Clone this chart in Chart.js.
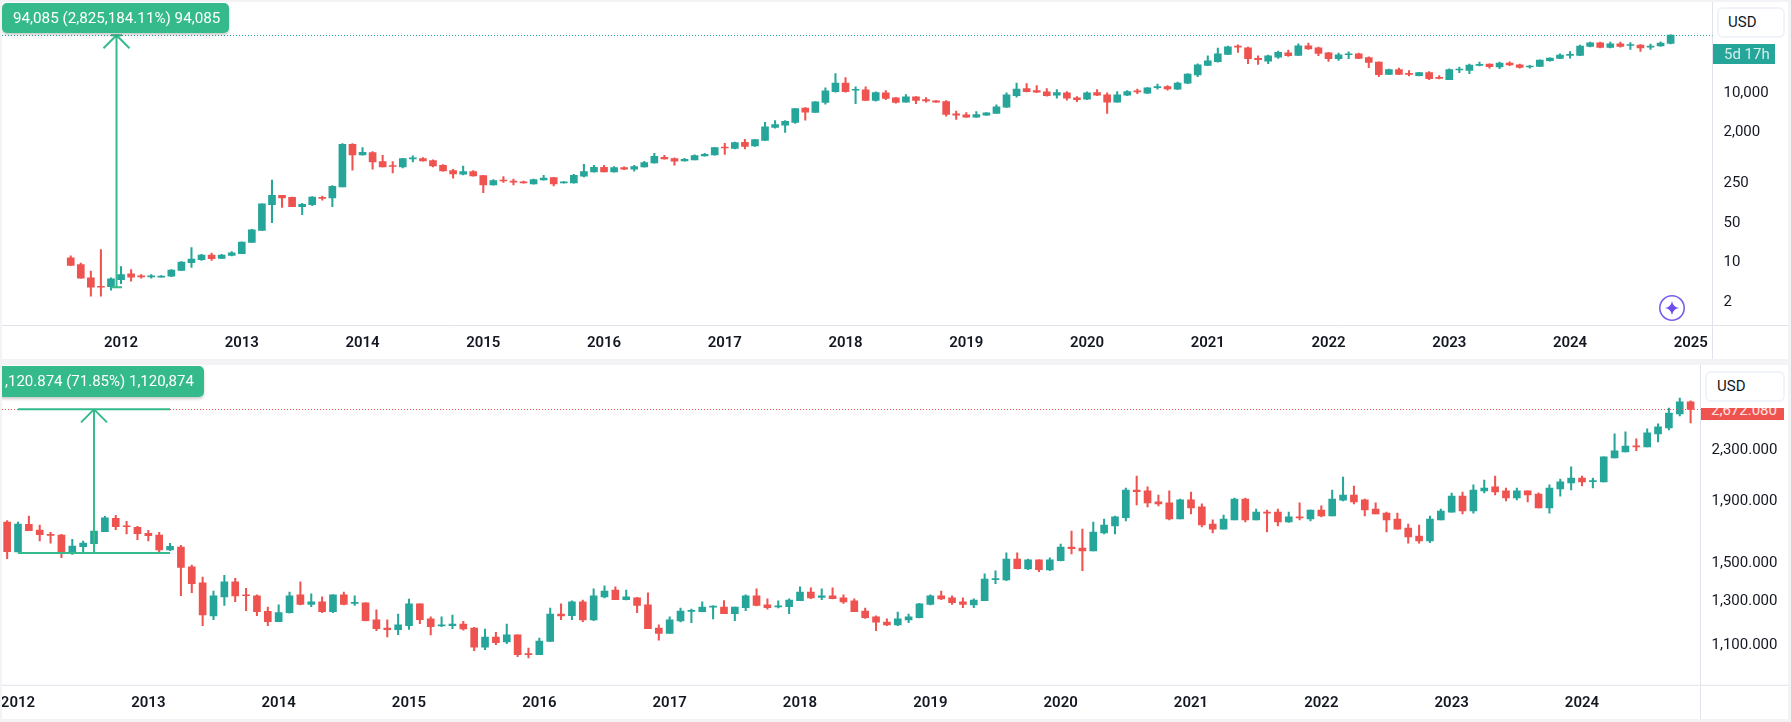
<!DOCTYPE html>
<html>
<head>
<meta charset="utf-8">
<title>Monthly candles</title>
<script src="https://cdn.jsdelivr.net/npm/chart.js@4/dist/chart.umd.min.js"></script>
<style>
    html, body { margin: 0; padding: 0; background: #f3f3f5; font-family: Roboto, sans-serif; }
    body { position: relative; width: 1791px; height: 722px; overflow: hidden; }
    .panel { position: absolute; left: 2px; width: 1786px; background: #fff; overflow: hidden; }
    #upperPanel { top: 2px; height: 357px; }
    #lowerPanel { top: 365px; height: 354px; }
    canvas { position: absolute; left: 0; top: 0; }
    .pill { position: absolute; background: #35ba8b; color: #fff; font-size: 15px; line-height: 30px; white-space: nowrap; box-shadow: 0 2px 3px rgba(0, 0, 0, 0.2); box-sizing: border-box; }
    #upperPill { left: 0; top: 1px; width: 227px; height: 30px; border-radius: 5px; padding-left: 11px; font-size: 15.2px; }
    #lowerPill { left: -2px; top: 1px; width: 204px; height: 31px; border-radius: 0 5px 5px 0; padding-left: 5px; }
    .usd { position: absolute; background: #fff; border: 2px solid #f0f3fa; border-radius: 6px; box-sizing: border-box; color: #131722; font-size: 15px; }
    #upperUsd { left: 1715px; top: 5px; width: 68px; height: 31px; line-height: 27px; padding-left: 9px; }
    #lowerUsd { left: 1703px; top: 6px; width: 80px; height: 31px; line-height: 27px; padding-left: 10px; }
    .tag { position: absolute; color: #fff; font-size: 15px; overflow: hidden; white-space: nowrap; }
    #upperTag { left: 1711px; top: 42px; width: 62px; height: 20px; line-height: 20px; background: #26a69a; padding-left: 11px; box-sizing: border-box; color: #d4efec; }
    #lowerTag { left: 1699px; top: 43px; width: 83px; height: 12px; line-height: 4px; background: #ef5350; padding-left: 10px; box-sizing: border-box; color: #fde3e3; }
    #spark { position: absolute; left: 1655px; top: 291px; }
</style>
</head>
<body>
<div class="panel" id="upperPanel">
    <canvas id="upperChart" width="1786" height="357"></canvas>
    <div class="pill" id="upperPill">94,085 (2,825,184.11%) 94,085</div>
    <div class="usd" id="upperUsd">USD</div>
    <div class="tag" id="upperTag">5d 17h</div>
    <svg id="spark" width="30" height="30" viewBox="0 0 30 30">
        <circle cx="15" cy="15" r="12.2" fill="none" stroke="#7b5fe6" stroke-width="1.6"></circle>
        <path d="M15 8 Q16 14 22 15 Q16 16 15 22 Q14 16 8 15 Q14 14 15 8 Z" fill="#6d4df0"></path>
    </svg>
</div>
<div class="panel" id="lowerPanel">
    <canvas id="lowerChart" width="1786" height="354"></canvas>
    <div class="pill" id="lowerPill">,120.874 (71.85%) 1,120,874</div>
    <div class="tag" id="lowerTag">2,672.080</div>
    <div class="usd" id="lowerUsd">USD</div>
</div>
<script>
var upperOpen = [
    11.0,8.32,4.85,3.41,3.41,4.53,5.70,5.25,5.05,4.98,
    5.18,6.61,9.01,10.2,12.3,10.7,12.1,13.0,20.5,33.3,
    95.3,139,128,88.0,95.3,128,125,197,1110,721,
    792,551,462,443,614,622,573,474,382,329,
    366,312,214,258,245,242,222,262,287,232,
    232,304,362,437,362,431,403,443,521,655,
    622,566,589,692,721,983,943,1203,1037,1305,
    2207,2428,2705,4830,4055,6080,9480,13470,10000,10140,
    6590,8985,7340,6160,7640,6860,6500,6320,3840,3685,
    3350,3640,3890,5030,8070,10700,9870,9360,8180,8985,
    7340,6950,9110,8270,6160,8180,9740,8860,11150,11610,
    10420,13290,18620,27550,31950,42970,59430,56280,36550,32800,
    38580,45990,41240,61000,56280,45990,36080,42400,44150,37650,
    31500,19160,23110,19920,18150,20470,16700,15410,22800,22500,
    27550,29050,25750,30270,28280,25750,26450,33250,36550,41200,
    41200,59430,69000,57050,66300,61800,62650,57800,61000,67100
];
var upperHigh = [
    11.9,8.89,6.43,15.3,4.85,7.66,6.79,5.55,5.55,5.33,
    6.79,9.39,16.6,12.6,13.3,12.6,14.1,21.1,35.1,98.2,
    258,139,130,101,133,135,208,1140,1140,969,
    825,711,551,630,692,647,589,486,403,456,
    382,316,265,300,269,248,269,316,291,245,
    329,494,474,474,450,443,474,558,771,711,
    638,630,721,771,983,1155,1220,1359,1359,2705,
    2930,2930,4765,4960,6320,11000,19650,16690,11450,11450,
    9360,9870,7540,8400,7740,7430,6590,6590,4280,4050,
    4220,4050,5520,8985,13470,13110,12090,10700,10280,9480,
    7740,9360,10280,8985,9480,9870,10550,11150,12860,12090,
    14000,19650,29450,40700,55500,60200,63570,57800,40700,41800,
    49100,51230,66300,68020,57800,46600,45370,47900,45370,39100,
    31950,23740,24700,22200,20750,21300,18150,24050,25730,29050,
    31500,29450,31500,31900,29050,27550,34640,37600,44150,48500,
    62650,70900,70900,70900,70900,69900,64450,65350,71900,95300
];
var upperLow = [
    8.09,4.78,2.30,2.30,2.95,3.85,4.24,4.78,4.78,4.98,
    5.11,6.52,7.46,9.91,9.91,10.6,11.9,13.0,20.5,33.3,
    46.1,85.6,88.0,63.7,91.6,115,88.0,197,387,711,
    403,443,347,425,543,558,443,371,280,320,
    304,155,211,235,214,229,220,258,205,229,
    229,296,357,362,357,398,371,437,514,605,
    474,558,589,683,711,740,918,918,1023,1287,
    2150,1805,2596,2970,4055,5680,9230,9230,5830,6590,
    6410,6860,5910,6160,5830,6160,6080,3494,3053,3310,
    3310,3590,3890,4960,7540,9360,9110,7850,7240,6680,
    6320,6860,8070,3890,6160,8070,8750,8750,10420,10000,
    10280,13110,17400,27180,31500,42420,46600,29450,28650,29450,
    36550,39640,40700,52650,40700,32400,33700,36080,36080,25000,
    17400,18900,18900,17900,17900,15410,15840,15410,20470,19650,
    26800,24700,24050,27150,24700,24700,26100,32800,36080,37050,
    40700,58600,56280,56280,57800,52650,48500,52650,59430,66200
];
var upperClose = [
    8.09,4.78,3.32,3.32,4.66,5.55,4.98,5.05,5.18,5.25,
    6.70,9.26,10.46,12.3,10.6,12.3,13.5,20.8,34.2,98.2,
    139,125,88.0,96.8,130,123,202,1110,721,802,
    543,443,450,622,630,566,462,377,333,366,
    308,214,254,250,238,232,265,280,222,238,
    316,366,437,362,431,403,450,528,683,614,
    558,605,701,740,969,955,1187,1023,1340,2268,
    2470,2815,4765,4110,6240,9740,13470,9480,10280,6590,
    9110,7150,6080,7640,6590,6500,6160,3730,3640,3350,
    3730,3999,5095,8270,10550,9480,9230,8070,9110,7240,
    6860,8985,8180,6160,8270,9480,9360,11000,11450,10550,
    13470,19400,28280,33250,44100,58630,57800,36080,34640,40700,
    46600,40700,61000,54000,44750,36080,42400,43550,36550,31100,
    18900,23110,19160,19160,20470,16070,16270,23110,23420,27950,
    28650,26100,30270,27950,25400,26800,34200,37050,41800,43000,
    60200,69000,57050,66300,59430,63570,56280,60200,68020,94085
];
var upperYears = [2012, 2013, 2014, 2015, 2016, 2017, 2018, 2019, 2020, 2021, 2022, 2023, 2024, 2025];
var upperPriceTicks = [2, 10, 50, 250, 2000, 10000];

var lowerOpen = [
    1744,1557,1729,1692,1663,1660,1555,1588,1606,1681,
    1769,1718,1709,1671,1660,1569,1586,1471,1385,1222,
    1313,1390,1323,1318,1243,1196,1237,1323,1276,1289,
    1242,1323,1281,1284,1204,1167,1160,1178,1279,1208,
    1176,1178,1185,1167,1086,1128,1107,1137,1059,1055,
    1109,1231,1223,1289,1204,1313,1348,1300,1308,1274,
    1167,1143,1199,1243,1242,1263,1264,1232,1261,1318,
    1274,1264,1266,1295,1338,1310,1318,1308,1294,1245,
    1218,1194,1181,1204,1214,1276,1318,1308,1289,1274,
    1294,1402,1400,1516,1460,1511,1455,1507,1586,1580,
    1563,1673,1718,1773,1969,1962,1882,1875,1764,1896,
    1847,1731,1698,1758,1903,1758,1811,1811,1744,1778,
    1764,1825,1784,1894,1932,1896,1832,1804,1764,1704,
    1654,1623,1758,1811,1924,1818,1962,1992,1962,1910,
    1962,1939,1839,1977,2022,2060,2032,2030,2223,2275,
    2326,2318,2435,2490,2626,2749
];
var lowerHigh = [
    1753,1744,1784,1724,1677,1665,1633,1623,1685,1782,
    1789,1749,1716,1690,1677,1608,1596,1481,1416,1343,
    1425,1409,1357,1323,1264,1274,1338,1390,1328,1313,
    1323,1338,1318,1284,1250,1204,1231,1302,1279,1218,
    1218,1226,1197,1170,1163,1148,1185,1137,1082,1123,
    1259,1279,1294,1298,1354,1369,1364,1348,1311,1333,
    1181,1218,1259,1254,1289,1269,1295,1264,1323,1354,
    1303,1294,1303,1364,1359,1354,1359,1323,1303,1259,
    1222,1208,1240,1231,1281,1323,1343,1318,1308,1303,
    1433,1450,1552,1552,1516,1511,1522,1604,1685,1698,
    1744,1764,1784,1984,2076,1992,1932,1962,1903,1954,
    1868,1758,1791,1910,1910,1832,1825,1832,1811,1875,
    1825,1854,1969,2068,1999,1903,1875,1811,1804,1731,
    1724,1784,1832,1945,1954,2007,2045,2076,1984,1984,
    1962,1947,2007,2052,2149,2076,2060,2232,2435,2454,
    2390,2481,2529,2686,2790,2760
];
var lowerLow = [
    1518,1557,1688,1623,1610,1524,1542,1557,1557,1681,
    1694,1667,1631,1623,1557,1565,1319,1335,1178,1205,
    1271,1290,1246,1223,1178,1196,1235,1274,1266,1237,
    1237,1274,1271,1199,1155,1128,1138,1161,1187,1137,
    1173,1164,1158,1071,1075,1096,1100,1047,1042,1055,
    1109,1205,1205,1196,1200,1308,1300,1298,1237,1164,
    1115,1143,1194,1191,1240,1208,1232,1200,1246,1269,
    1254,1259,1232,1294,1305,1300,1303,1281,1242,1210,
    1155,1178,1178,1191,1213,1274,1300,1276,1261,1261,
    1294,1381,1397,1460,1456,1445,1451,1505,1546,1451,
    1563,1667,1667,1751,1861,1847,1854,1758,1764,1798,
    1711,1673,1698,1758,1744,1758,1679,1718,1742,1758,
    1751,1778,1784,1889,1868,1784,1798,1679,1698,1610,
    1610,1612,1758,1811,1798,1804,1947,1932,1889,1896,
    1882,1839,1804,1924,1969,1999,1984,2030,2223,2275,
    2284,2318,2362,2472,2606,2539
];
var lowerClose = [
    1559,1731,1688,1663,1658,1555,1592,1610,1685,1771,
    1713,1713,1669,1656,1569,1590,1468,1381,1226,1318,
    1390,1318,1319,1242,1196,1238,1318,1276,1289,1242,
    1323,1276,1285,1200,1164,1160,1181,1279,1205,1173,
    1181,1185,1163,1086,1128,1104,1137,1055,1055,1111,
    1231,1222,1289,1204,1318,1343,1300,1313,1271,1164,
    1143,1204,1245,1246,1264,1266,1232,1264,1318,1271,
    1261,1269,1298,1338,1308,1318,1305,1289,1242,1214,
    1193,1181,1208,1218,1279,1318,1303,1285,1276,1298,
    1405,1405,1516,1462,1511,1456,1511,1586,1577,1563,
    1679,1724,1778,1969,1957,1875,1868,1764,1896,1839,
    1724,1698,1764,1903,1758,1811,1804,1744,1778,1771,
    1825,1784,1903,1932,1882,1825,1798,1758,1698,1648,
    1623,1764,1818,1924,1818,1969,1984,1954,1910,1962,
    1932,1839,1984,2030,2060,2030,2037,2232,2284,2326,
    2318,2444,2500,2635,2749,2672
];
var lowerYears = [2012, 2013, 2014, 2015, 2016, 2017, 2018, 2019, 2020, 2021, 2022, 2023, 2024];
var lowerPriceTicks = [1100, 1300, 1500, 1900, 2300];

var UP = '#26a69a';
var DOWN = '#ef5350';
var MEASURE = '#35ba8b';
var FRAME = '#e0e3eb';
var FONT = 'Roboto, sans-serif';

function candleSets(open, high, low, close) {
    var colors = open.map(function (value, i) {
        return close[i] >= value ? UP : DOWN;
    });
    var wicks = high.map(function (value, i) {
        return { x: i, y: [low[i], value] };
    });
    var bodies = open.map(function (value, i) {
        return { x: i, y: [value, close[i]] };
    });

    return [
        { data: wicks, backgroundColor: colors, barThickness: 1.4, grouped: false, order: 2 },
        { data: bodies, backgroundColor: colors, barThickness: 7, minBarLength: 1, grouped: false, order: 1 }
    ];
}

// the axes keep half a label of padding unless told otherwise
function clearPadding(scale) {
    scale.paddingTop = 0;
    scale.paddingBottom = 0;
    scale.paddingLeft = 0;
    scale.paddingRight = 0;
}

// price line, measure arrow and the frame lines between pane and axes
function overlayPlugin(cfg) {
    return {
        id: 'overlay',
        afterDraw: function (chart) {
            var ctx = chart.ctx;
            var area = chart.chartArea;
            var xs = chart.scales.x;
            var ys = chart.scales.y;
            var priceY = Math.round(ys.getPixelForValue(cfg.price)) + 0.5;
            var topY = ys.getPixelForValue(cfg.measureTop);
            var baseY = ys.getPixelForValue(cfg.measureBase);
            var fromX = xs.getPixelForValue(cfg.measureFrom);
            var toX = xs.getPixelForValue(cfg.measureTo);
            var midX = (fromX + toX) / 2;

            ctx.save();
            ctx.strokeStyle = FRAME;
            ctx.lineWidth = 1;
            ctx.beginPath();
            ctx.moveTo(area.right, 0);
            ctx.lineTo(area.right, chart.height);
            ctx.moveTo(0, area.bottom);
            ctx.lineTo(chart.width, area.bottom);
            ctx.stroke();

            ctx.strokeStyle = cfg.priceColor;
            ctx.setLineDash([1, 2]);
            ctx.beginPath();
            ctx.moveTo(area.left, priceY);
            ctx.lineTo(area.right, priceY);
            ctx.stroke();
            ctx.setLineDash([]);

            ctx.strokeStyle = MEASURE;
            ctx.lineWidth = 2;
            ctx.beginPath();
            ctx.moveTo(fromX, topY);
            ctx.lineTo(toX, topY);
            ctx.moveTo(fromX, baseY);
            ctx.lineTo(toX, baseY);
            ctx.moveTo(midX, baseY);
            ctx.lineTo(midX, topY);
            ctx.moveTo(midX - 13, topY + 13);
            ctx.lineTo(midX, topY);
            ctx.lineTo(midX + 13, topY + 13);
            ctx.stroke();
            ctx.restore();
        }
    };
}

function drawPanel(canvasId, sets, years, firstYearIndex, priceTicks, priceFormat, axisWidth, axisHeight, ranges, overlay) {
    new Chart(document.getElementById(canvasId), {
        type: 'bar',
        data: { datasets: sets },
        options: {
            responsive: false,
            devicePixelRatio: 1,
            animation: false,
            events: [],
            layout: { padding: 0 },
            plugins: { legend: { display: false }, tooltip: { enabled: false } },
            scales: {
                x: {
                    type: 'linear',
                    offset: false,
                    min: ranges.xMin,
                    max: ranges.xMax,
                    grid: { display: false, drawTicks: false },
                    border: { display: false },
                    afterFit: function (scale) {
                        scale.height = axisHeight;
                        clearPadding(scale);
                    },
                    afterBuildTicks: function (scale) {
                        scale.ticks = years.map(function (year, i) {
                            return { value: firstYearIndex + i * 12 };
                        });
                    },
                    ticks: {
                        autoSkip: false,
                        maxRotation: 0,
                        padding: 9,
                        color: '#131722',
                        font: { family: FONT, size: 15, weight: '600' },
                        callback: function (value) {
                            return years[Math.round((value - firstYearIndex) / 12)];
                        }
                    }
                },
                y: {
                    type: 'logarithmic',
                    position: 'right',
                    min: ranges.yMin,
                    max: ranges.yMax,
                    grid: { display: false, drawTicks: false },
                    border: { display: false },
                    afterFit: function (scale) {
                        scale.width = axisWidth;
                        clearPadding(scale);
                    },
                    afterBuildTicks: function (scale) {
                        scale.ticks = priceTicks.map(function (value) {
                            return { value: value };
                        });
                    },
                    ticks: {
                        autoSkip: false,
                        padding: 11,
                        labelOffset: ranges.labelShift,
                        color: '#131722',
                        font: { family: FONT, size: 15 },
                        callback: priceFormat
                    }
                }
            }
        },
        plugins: [overlayPlugin(overlay)]
    });
}

drawPanel(
    'upperChart',
    candleSets(upperOpen, upperHigh, upperLow, upperClose),
    upperYears,
    5,
    upperPriceTicks,
    function (value) { return Number(value).toLocaleString('en-US'); },
    75.5,
    33.5,
    { xMin: -6.83, xMax: 163.16, yMin: 0.7415, yMax: 362600, labelShift: 2.5 },
    { price: 94085, priceColor: UP, measureTop: 94085, measureBase: 3.33, measureFrom: 4, measureTo: 5.1 }
);

drawPanel(
    'lowerChart',
    candleSets(lowerOpen, lowerHigh, lowerLow, lowerClose),
    lowerYears,
    1,
    lowerPriceTicks,
    function (value) {
        return Number(value).toLocaleString('en-US', { minimumFractionDigits: 3 });
    },
    87.5,
    33.7,
    { xMin: -0.473, xMax: 155.91, yMin: 939.5, yMax: 3161, labelShift: 1.5 },
    { price: 2672.08, priceColor: DOWN, measureTop: 2672.08, measureBase: 1551.2, measureFrom: 1, measureTo: 15 }
);
</script>
</body>
</html>
